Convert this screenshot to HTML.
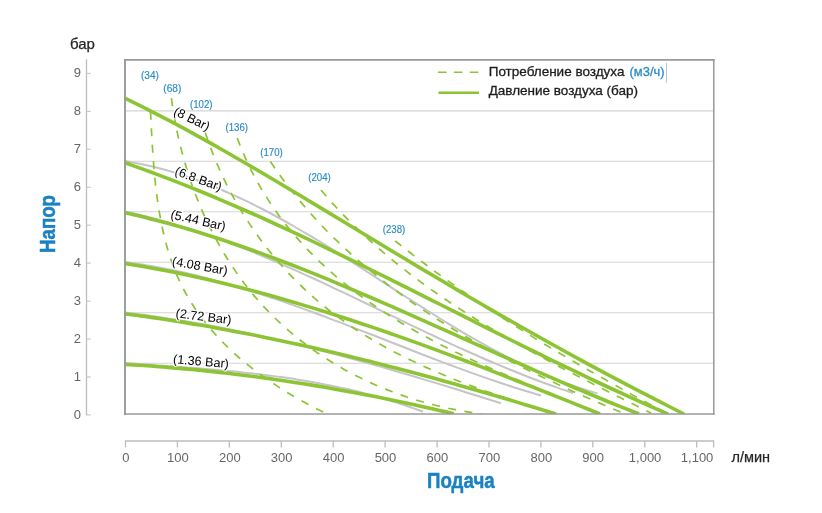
<!DOCTYPE html>
<html lang="ru"><head><meta charset="utf-8">
<style>
html,body{margin:0;padding:0;background:#fff;}
body{width:822px;height:513px;position:relative;overflow:hidden;font-family:"Liberation Sans",sans-serif;}
text{font-family:"Liberation Sans",sans-serif;}
.tk{font-size:13px;fill:#666;}
.un{font-size:14.5px;fill:#262626;stroke:#262626;stroke-width:0.25px;}
.ttl{font-size:22px;font-weight:bold;fill:#1a82c2;stroke:#1a82c2;stroke-width:0.5px;}
.bl{font-size:10.2px;fill:#2a8cc4;stroke:#2a8cc4;stroke-width:0.15px;}
.br{font-size:12.6px;fill:#000;text-shadow:1.1px 0 0 #fff,-1.1px 0 0 #fff,0 1.1px 0 #fff,0 -1.1px 0 #fff,0.8px 0.8px 0 #fff,-0.8px -0.8px 0 #fff,0.8px -0.8px 0 #fff,-0.8px 0.8px 0 #fff;}
.lg{font-size:13.5px;fill:#1c1c1c;stroke:#1c1c1c;stroke-width:0.3px;}
</style></head>
<body>
<svg width="822" height="513" viewBox="0 0 822 513" style="position:absolute;left:0;top:0">
<line x1="126" y1="110.9" x2="713" y2="110.9" stroke="#d4d4d4" stroke-width="1.1"/>
<line x1="126" y1="161.3" x2="713" y2="161.3" stroke="#d4d4d4" stroke-width="1.1"/>
<line x1="126" y1="211.8" x2="713" y2="211.8" stroke="#d4d4d4" stroke-width="1.1"/>
<line x1="126" y1="262.3" x2="713" y2="262.3" stroke="#d4d4d4" stroke-width="1.1"/>
<line x1="126" y1="312.7" x2="713" y2="312.7" stroke="#d4d4d4" stroke-width="1.1"/>
<line x1="126" y1="363.2" x2="713" y2="363.2" stroke="#d4d4d4" stroke-width="1.1"/>
<path d="M125.0,161.0 C128.0,161.6 137.2,163.2 143.3,164.5 C149.3,165.8 155.3,167.2 161.2,168.8 C167.1,170.4 172.9,172.1 178.7,173.9 C184.5,175.7 190.3,177.7 196.0,179.7 C201.7,181.8 207.3,183.9 212.9,186.2 C218.5,188.5 224.1,190.8 229.6,193.3 C235.1,195.7 240.6,198.3 246.1,200.9 C251.5,203.5 256.9,206.2 262.3,209.0 C267.7,211.8 273.0,214.6 278.3,217.5 C283.6,220.4 288.9,223.4 294.2,226.5 C299.5,229.5 304.7,232.6 309.9,235.7 C315.1,238.8 320.3,242.0 325.5,245.2 C330.7,248.4 335.9,251.7 341.0,254.9 C346.2,258.2 351.4,261.5 356.5,264.8 C361.6,268.1 366.8,271.4 371.9,274.8 C377.0,278.1 382.2,281.5 387.3,284.8 C392.4,288.1 397.6,291.5 402.7,294.8 C407.8,298.1 413.0,301.4 418.1,304.7 C423.3,308.0 428.5,311.3 433.6,314.5 C438.8,317.8 444.0,321.0 449.2,324.2 C454.4,327.3 459.7,330.5 464.9,333.6 C470.2,336.6 475.4,339.7 480.7,342.7 C486.1,345.6 491.4,348.6 496.7,351.4 C502.1,354.3 507.5,357.1 512.9,359.8 C518.3,362.5 523.8,365.1 529.3,367.7 C534.8,370.2 540.3,372.7 545.9,375.0 C551.5,377.4 557.1,379.7 562.8,381.9 C568.5,384.0 574.2,386.1 580.0,388.0 C585.8,390.0 594.6,392.6 597.5,393.5" fill="none" stroke="#c5c5c8" stroke-width="2.0"/>
<path d="M125.0,211.5 C127.7,212.1 136.0,213.9 141.4,215.3 C146.9,216.6 152.3,218.0 157.7,219.4 C163.1,220.9 168.5,222.4 173.8,224.0 C179.1,225.6 184.5,227.3 189.8,229.0 C195.1,230.7 200.3,232.4 205.6,234.2 C210.8,236.1 216.1,237.9 221.3,239.8 C226.5,241.8 231.7,243.7 236.9,245.7 C242.0,247.7 247.2,249.8 252.4,251.9 C257.5,254.0 262.6,256.1 267.7,258.3 C272.9,260.4 278.0,262.6 283.1,264.8 C288.1,267.1 293.2,269.3 298.3,271.6 C303.4,273.9 308.4,276.2 313.5,278.5 C318.5,280.8 323.6,283.2 328.6,285.6 C333.6,287.9 338.7,290.3 343.7,292.7 C348.7,295.1 353.7,297.5 358.8,299.9 C363.8,302.3 368.8,304.7 373.8,307.1 C378.8,309.6 383.8,312.0 388.9,314.4 C393.9,316.8 398.9,319.2 403.9,321.7 C408.9,324.1 414.0,326.5 419.0,328.9 C424.0,331.3 429.0,333.7 434.1,336.0 C439.1,338.4 444.2,340.7 449.2,343.1 C454.3,345.4 459.3,347.7 464.4,350.0 C469.5,352.3 474.6,354.6 479.7,356.8 C484.7,359.0 489.9,361.3 495.0,363.4 C500.1,365.6 505.2,367.7 510.4,369.8 C515.5,371.9 520.7,374.0 525.9,376.0 C531.0,378.1 536.2,380.0 541.5,382.0 C546.7,383.9 551.9,385.8 557.2,387.6 C562.4,389.5 570.4,392.1 573.0,393.0" fill="none" stroke="#c5c5c8" stroke-width="2.0"/>
<path d="M125.0,262.0 C127.5,262.4 135.1,263.4 140.1,264.2 C145.1,265.0 150.1,265.8 155.1,266.7 C160.1,267.6 165.0,268.6 170.0,269.6 C174.9,270.6 179.8,271.7 184.7,272.8 C189.7,273.9 194.5,275.1 199.4,276.3 C204.3,277.5 209.2,278.8 214.0,280.1 C218.9,281.4 223.7,282.8 228.5,284.2 C233.4,285.6 238.2,287.0 243.0,288.5 C247.8,289.9 252.6,291.4 257.3,293.0 C262.1,294.5 266.9,296.1 271.7,297.7 C276.4,299.3 281.2,300.9 285.9,302.6 C290.7,304.2 295.4,305.9 300.1,307.6 C304.9,309.3 309.6,311.0 314.3,312.8 C319.0,314.5 323.7,316.3 328.4,318.1 C333.1,319.8 337.8,321.6 342.5,323.4 C347.2,325.2 351.9,327.0 356.6,328.9 C361.3,330.7 366.0,332.5 370.7,334.3 C375.4,336.2 380.1,338.0 384.8,339.8 C389.5,341.7 394.1,343.5 398.8,345.3 C403.5,347.2 408.2,349.0 412.9,350.8 C417.6,352.6 422.3,354.4 427.0,356.2 C431.7,358.0 436.4,359.8 441.1,361.6 C445.8,363.4 450.5,365.1 455.2,366.9 C460.0,368.6 464.7,370.4 469.4,372.1 C474.1,373.8 478.9,375.4 483.6,377.1 C488.4,378.8 493.1,380.4 497.9,382.0 C502.6,383.6 507.4,385.2 512.2,386.7 C517.0,388.2 521.7,389.8 526.6,391.2 C531.4,392.7 538.6,394.8 541.0,395.5" fill="none" stroke="#c5c5c8" stroke-width="2.0"/>
<path d="M125.0,312.5 C127.2,312.8 133.9,313.6 138.3,314.2 C142.7,314.7 147.1,315.3 151.5,316.0 C156.0,316.6 160.4,317.2 164.8,317.9 C169.2,318.6 173.6,319.3 178.0,320.0 C182.4,320.7 186.8,321.4 191.1,322.2 C195.5,323.0 199.9,323.8 204.3,324.6 C208.7,325.4 213.0,326.2 217.4,327.0 C221.8,327.9 226.1,328.7 230.5,329.6 C234.9,330.5 239.2,331.4 243.6,332.3 C247.9,333.2 252.3,334.2 256.6,335.1 C261.0,336.1 265.3,337.1 269.7,338.1 C274.0,339.0 278.3,340.0 282.7,341.1 C287.0,342.1 291.3,343.1 295.6,344.2 C300.0,345.2 304.3,346.3 308.6,347.4 C312.9,348.5 317.2,349.6 321.5,350.7 C325.9,351.8 330.2,352.9 334.5,354.1 C338.8,355.2 343.1,356.3 347.4,357.5 C351.7,358.7 356.0,359.8 360.3,361.0 C364.5,362.2 368.8,363.4 373.1,364.6 C377.4,365.8 381.7,367.0 386.0,368.3 C390.3,369.5 394.5,370.7 398.8,372.0 C403.1,373.2 407.4,374.5 411.6,375.8 C415.9,377.0 420.2,378.3 424.4,379.6 C428.7,380.8 433.0,382.1 437.2,383.4 C441.5,384.7 445.7,386.0 450.0,387.3 C454.3,388.6 458.5,389.9 462.8,391.2 C467.0,392.6 471.3,393.9 475.5,395.2 C479.8,396.5 484.0,397.9 488.3,399.2 C492.5,400.5 498.9,402.5 501.0,403.2" fill="none" stroke="#c5c5c8" stroke-width="2.0"/>
<path d="M125.0,363.0 C126.7,363.1 131.9,363.5 135.4,363.7 C138.8,364.0 142.3,364.2 145.8,364.5 C149.2,364.7 152.7,364.9 156.2,365.2 C159.7,365.4 163.1,365.7 166.6,365.9 C170.1,366.2 173.6,366.4 177.0,366.7 C180.5,366.9 184.0,367.2 187.5,367.5 C190.9,367.7 194.4,368.0 197.9,368.3 C201.4,368.6 204.8,368.9 208.3,369.2 C211.8,369.5 215.3,369.8 218.8,370.1 C222.2,370.4 225.7,370.7 229.2,371.1 C232.7,371.4 236.1,371.7 239.6,372.1 C243.1,372.5 246.5,372.8 250.0,373.2 C253.5,373.6 256.9,374.0 260.4,374.4 C263.9,374.9 267.3,375.3 270.8,375.7 C274.3,376.2 277.7,376.7 281.2,377.1 C284.6,377.6 288.1,378.1 291.5,378.6 C294.9,379.2 298.4,379.7 301.8,380.3 C305.3,380.8 308.7,381.4 312.1,382.0 C315.5,382.6 319.0,383.3 322.4,383.9 C325.8,384.6 329.2,385.2 332.6,385.9 C336.0,386.6 339.4,387.3 342.8,388.1 C346.2,388.8 349.6,389.6 353.0,390.4 C356.4,391.2 359.8,392.1 363.1,392.9 C366.5,393.8 369.9,394.7 373.2,395.6 C376.6,396.5 379.9,397.5 383.3,398.4 C386.6,399.4 390.0,400.4 393.3,401.5 C396.6,402.5 399.9,403.6 403.2,404.7 C406.6,405.8 409.9,407.0 413.1,408.1 C416.4,409.3 421.4,411.2 423.0,411.8" fill="none" stroke="#c5c5c8" stroke-width="2.0"/>
<clipPath id="cp"><rect x="125" y="60" width="589" height="354"/></clipPath>
<g clip-path="url(#cp)"><g transform="translate(0,0.5)">
<path d="M150.5,111.3 C150.6,112.5 150.8,116.2 150.9,118.7 C151.0,121.2 151.1,123.7 151.3,126.2 C151.4,128.7 151.5,131.2 151.7,133.7 C151.8,136.2 151.9,138.8 152.1,141.3 C152.2,143.9 152.4,146.4 152.6,149.0 C152.7,151.5 152.9,154.1 153.1,156.7 C153.3,159.2 153.5,161.8 153.7,164.4 C153.9,167.0 154.1,169.5 154.3,172.1 C154.6,174.7 154.8,177.3 155.1,179.9 C155.4,182.5 155.6,185.1 155.9,187.6 C156.2,190.2 156.6,192.8 156.9,195.4 C157.2,198.0 157.6,200.5 158.0,203.1 C158.4,205.7 158.8,208.2 159.2,210.8 C159.6,213.3 160.1,215.9 160.6,218.4 C161.0,221.0 161.5,223.5 162.1,226.0 C162.6,228.6 163.2,231.1 163.7,233.6 C164.3,236.1 164.9,238.6 165.6,241.1 C166.2,243.5 166.9,246.0 167.6,248.4 C168.4,250.9 169.1,253.3 169.9,255.7 C170.7,258.2 171.5,260.6 172.3,262.9 C173.2,265.3 174.1,267.7 175.0,270.0 C175.9,272.4 176.9,274.7 177.9,277.0 C178.9,279.3 180.0,281.6 181.1,283.8 C182.2,286.1 183.3,288.3 184.5,290.5 C185.7,292.8 186.9,294.9 188.2,297.1 C189.4,299.3 190.7,301.4 192.1,303.5 C193.4,305.6 194.8,307.7 196.2,309.8 C197.6,311.9 199.1,313.9 200.6,315.9 C202.1,317.9 203.6,319.9 205.2,321.9 C206.7,323.9 208.3,325.8 210.0,327.8 C211.6,329.7 213.3,331.6 215.0,333.5 C216.7,335.4 218.4,337.2 220.1,339.0 C221.9,340.9 223.7,342.7 225.5,344.5 C227.3,346.3 229.1,348.0 231.0,349.8 C232.9,351.5 234.8,353.3 236.7,355.0 C238.6,356.7 240.5,358.3 242.5,360.0 C244.5,361.6 246.5,363.3 248.5,364.9 C250.5,366.5 252.5,368.1 254.5,369.6 C256.6,371.2 258.7,372.7 260.7,374.3 C262.8,375.8 264.9,377.3 267.1,378.8 C269.2,380.2 271.3,381.7 273.5,383.1 C275.6,384.6 277.8,386.0 280.0,387.4 C282.1,388.8 284.3,390.1 286.5,391.5 C288.7,392.8 290.9,394.2 293.2,395.5 C295.4,396.8 297.6,398.1 299.9,399.3 C302.1,400.6 304.3,401.8 306.6,403.0 C308.9,404.3 311.1,405.5 313.4,406.6 C315.7,407.8 317.9,409.0 320.2,410.1 C322.5,411.2 325.9,412.9 327.0,413.5" fill="none" stroke="#8cc434" stroke-width="1.7" stroke-dasharray="8 8.5"/>
<path d="M171.4,97.6 C171.7,99.3 172.3,104.1 172.8,107.3 C173.3,110.6 173.8,113.8 174.4,117.0 C175.0,120.2 175.6,123.4 176.2,126.6 C176.8,129.9 177.5,133.1 178.2,136.3 C179.0,139.5 179.7,142.7 180.5,145.9 C181.3,149.0 182.1,152.2 183.0,155.4 C183.8,158.6 184.7,161.7 185.7,164.9 C186.6,168.0 187.6,171.1 188.6,174.3 C189.6,177.4 190.7,180.5 191.7,183.6 C192.8,186.7 194.0,189.8 195.1,192.9 C196.3,195.9 197.5,199.0 198.7,202.0 C200.0,205.1 201.2,208.1 202.5,211.1 C203.8,214.1 205.2,217.1 206.6,220.0 C208.0,223.0 209.4,225.9 210.9,228.9 C212.3,231.8 213.8,234.7 215.4,237.6 C216.9,240.4 218.5,243.3 220.1,246.1 C221.7,249.0 223.3,251.8 225.0,254.5 C226.7,257.3 228.4,260.1 230.2,262.8 C232.0,265.5 233.8,268.2 235.6,270.9 C237.4,273.6 239.3,276.2 241.2,278.8 C243.2,281.4 245.1,284.0 247.1,286.6 C249.1,289.1 251.1,291.6 253.2,294.1 C255.3,296.6 257.4,299.0 259.5,301.4 C261.7,303.9 263.8,306.2 266.1,308.6 C268.3,310.9 270.5,313.2 272.8,315.5 C275.1,317.8 277.5,320.0 279.8,322.2 C282.2,324.4 284.6,326.6 287.0,328.7 C289.4,330.8 291.9,332.9 294.4,335.0 C296.9,337.0 299.4,339.1 302.0,341.0 C304.6,343.0 307.1,345.0 309.8,346.9 C312.4,348.8 315.0,350.6 317.7,352.5 C320.4,354.3 323.1,356.1 325.8,357.9 C328.6,359.6 331.3,361.3 334.1,363.0 C336.9,364.7 339.7,366.3 342.5,367.9 C345.4,369.6 348.2,371.1 351.1,372.6 C354.0,374.2 356.9,375.7 359.8,377.1 C362.8,378.6 365.7,380.0 368.7,381.4 C371.6,382.7 374.6,384.1 377.6,385.4 C380.6,386.7 383.7,387.9 386.7,389.1 C389.8,390.3 392.8,391.5 395.9,392.6 C399.0,393.8 402.1,394.9 405.2,395.9 C408.3,397.0 411.4,398.0 414.6,399.0 C417.7,400.0 420.9,400.9 424.0,401.8 C427.2,402.7 430.4,403.5 433.6,404.3 C436.7,405.2 439.9,405.9 443.2,406.6 C446.4,407.4 449.6,408.1 452.8,408.7 C456.0,409.4 459.3,410.0 462.5,410.5 C465.8,411.1 469.0,411.6 472.3,412.1 C475.5,412.6 480.4,413.2 482.1,413.4" fill="none" stroke="#8cc434" stroke-width="1.7" stroke-dasharray="8 8.5"/>
<path d="M205.1,131.7 C205.7,133.2 207.2,137.8 208.3,140.9 C209.4,143.9 210.5,147.0 211.7,150.0 C212.8,153.0 214.0,156.0 215.3,159.0 C216.5,162.0 217.8,164.9 219.1,167.9 C220.4,170.8 221.7,173.8 223.1,176.7 C224.5,179.6 225.9,182.5 227.3,185.3 C228.8,188.2 230.3,191.0 231.8,193.8 C233.3,196.7 234.9,199.5 236.5,202.2 C238.1,205.0 239.7,207.8 241.4,210.5 C243.0,213.2 244.7,215.9 246.4,218.6 C248.2,221.3 249.9,224.0 251.7,226.6 C253.5,229.3 255.3,231.9 257.2,234.5 C259.0,237.1 260.9,239.6 262.8,242.2 C264.8,244.7 266.7,247.2 268.7,249.7 C270.7,252.2 272.7,254.6 274.7,257.1 C276.8,259.5 278.8,261.9 280.9,264.3 C283.0,266.7 285.2,269.0 287.3,271.4 C289.5,273.7 291.7,276.0 293.9,278.2 C296.1,280.5 298.4,282.7 300.7,284.9 C302.9,287.2 305.3,289.3 307.6,291.5 C309.9,293.6 312.3,295.7 314.7,297.8 C317.1,299.9 319.5,302.0 321.9,304.0 C324.4,306.0 326.8,308.0 329.3,310.0 C331.8,311.9 334.4,313.9 336.9,315.7 C339.5,317.6 342.0,319.5 344.6,321.3 C347.2,323.2 349.8,325.0 352.5,326.7 C355.1,328.5 357.8,330.2 360.5,332.0 C363.2,333.7 365.9,335.4 368.6,337.0 C371.3,338.7 374.1,340.3 376.9,341.9 C379.6,343.5 382.4,345.1 385.2,346.6 C388.0,348.1 390.9,349.7 393.7,351.2 C396.5,352.7 399.4,354.1 402.3,355.6 C405.1,357.0 408.0,358.4 410.9,359.8 C413.8,361.2 416.7,362.6 419.6,364.0 C422.6,365.3 425.5,366.6 428.4,367.9 C431.4,369.2 434.3,370.5 437.3,371.8 C440.3,373.1 443.2,374.3 446.2,375.5 C449.2,376.8 452.2,378.0 455.2,379.2 C458.2,380.4 461.2,381.5 464.2,382.7 C467.2,383.8 470.3,385.0 473.3,386.1 C476.3,387.2 479.3,388.3 482.4,389.4 C485.4,390.5 488.4,391.6 491.5,392.6 C494.5,393.7 497.5,394.7 500.6,395.8 C503.6,396.8 506.6,397.8 509.7,398.8 C512.7,399.8 515.8,400.8 518.8,401.8 C521.8,402.8 524.9,403.8 527.9,404.7 C530.9,405.7 533.9,406.6 537.0,407.6 C540.0,408.5 543.0,409.5 546.0,410.4 C549.0,411.3 553.5,412.7 555.0,413.1" fill="none" stroke="#8cc434" stroke-width="1.7" stroke-dasharray="8 8.5"/>
<path d="M237.2,137.5 C237.8,139.0 239.6,143.7 240.8,146.8 C242.1,149.9 243.4,152.9 244.7,155.9 C246.0,158.9 247.4,161.9 248.8,164.8 C250.2,167.8 251.7,170.7 253.2,173.6 C254.7,176.4 256.2,179.3 257.8,182.1 C259.4,184.9 261.0,187.7 262.6,190.4 C264.3,193.2 266.0,195.9 267.7,198.6 C269.4,201.3 271.2,203.9 273.0,206.6 C274.8,209.2 276.6,211.8 278.5,214.4 C280.4,216.9 282.3,219.5 284.2,222.0 C286.2,224.5 288.2,226.9 290.2,229.4 C292.2,231.8 294.2,234.3 296.3,236.6 C298.4,239.0 300.5,241.4 302.6,243.7 C304.7,246.0 306.9,248.3 309.1,250.6 C311.3,252.9 313.5,255.1 315.8,257.4 C318.0,259.6 320.3,261.8 322.6,263.9 C324.9,266.1 327.3,268.2 329.6,270.3 C332.0,272.4 334.4,274.5 336.8,276.6 C339.2,278.6 341.6,280.7 344.1,282.7 C346.6,284.7 349.1,286.6 351.6,288.6 C354.1,290.5 356.6,292.5 359.2,294.4 C361.7,296.3 364.3,298.1 366.9,300.0 C369.5,301.8 372.1,303.7 374.7,305.5 C377.4,307.3 380.0,309.0 382.7,310.8 C385.4,312.5 388.1,314.3 390.8,316.0 C393.5,317.7 396.2,319.3 399.0,321.0 C401.7,322.7 404.5,324.3 407.2,325.9 C410.0,327.5 412.8,329.1 415.6,330.7 C418.4,332.3 421.2,333.8 424.1,335.4 C426.9,336.9 429.7,338.4 432.6,339.9 C435.4,341.4 438.3,342.9 441.2,344.4 C444.1,345.8 446.9,347.3 449.8,348.7 C452.7,350.2 455.6,351.6 458.6,353.0 C461.5,354.4 464.4,355.8 467.3,357.2 C470.2,358.5 473.2,359.9 476.1,361.2 C479.1,362.6 482.0,363.9 485.0,365.3 C487.9,366.6 490.9,367.9 493.8,369.2 C496.8,370.5 499.8,371.8 502.7,373.1 C505.7,374.4 508.7,375.6 511.6,376.9 C514.6,378.2 517.6,379.4 520.6,380.7 C523.5,381.9 526.5,383.2 529.5,384.4 C532.4,385.6 535.4,386.9 538.4,388.1 C541.3,389.3 544.3,390.5 547.3,391.8 C550.2,393.0 553.2,394.2 556.1,395.4 C559.1,396.6 562.1,397.8 565.0,399.0 C567.9,400.2 570.9,401.4 573.8,402.6 C576.8,403.8 579.7,405.0 582.6,406.2 C585.5,407.4 588.4,408.6 591.3,409.8 C594.2,411.0 598.6,412.8 600.0,413.4" fill="none" stroke="#8cc434" stroke-width="1.7" stroke-dasharray="8 8.5"/>
<path d="M270.4,161.0 C271.2,162.2 273.8,166.0 275.5,168.5 C277.3,171.0 279.0,173.5 280.8,176.0 C282.6,178.4 284.4,180.9 286.2,183.3 C288.0,185.7 289.9,188.1 291.7,190.4 C293.6,192.8 295.5,195.2 297.4,197.5 C299.3,199.8 301.2,202.1 303.2,204.4 C305.1,206.7 307.1,209.0 309.1,211.2 C311.0,213.5 313.1,215.7 315.1,217.9 C317.1,220.2 319.1,222.3 321.2,224.5 C323.3,226.7 325.3,228.8 327.4,231.0 C329.5,233.1 331.6,235.2 333.8,237.3 C335.9,239.4 338.1,241.5 340.2,243.6 C342.4,245.6 344.6,247.7 346.8,249.7 C349.0,251.7 351.2,253.7 353.4,255.7 C355.6,257.7 357.9,259.7 360.2,261.6 C362.4,263.6 364.7,265.5 367.0,267.4 C369.3,269.4 371.6,271.3 373.9,273.1 C376.2,275.0 378.6,276.9 380.9,278.8 C383.3,280.6 385.6,282.4 388.0,284.3 C390.4,286.1 392.8,287.9 395.2,289.7 C397.6,291.5 400.0,293.2 402.4,295.0 C404.9,296.8 407.3,298.5 409.8,300.2 C412.2,302.0 414.7,303.7 417.1,305.4 C419.6,307.1 422.1,308.8 424.6,310.4 C427.1,312.1 429.6,313.7 432.1,315.4 C434.7,317.0 437.2,318.6 439.7,320.3 C442.3,321.9 444.8,323.5 447.4,325.1 C450.0,326.6 452.5,328.2 455.1,329.8 C457.7,331.3 460.3,332.9 462.9,334.4 C465.5,335.9 468.1,337.5 470.7,339.0 C473.3,340.5 475.9,342.0 478.5,343.4 C481.2,344.9 483.8,346.4 486.5,347.9 C489.1,349.3 491.8,350.8 494.4,352.2 C497.1,353.6 499.7,355.1 502.4,356.5 C505.1,357.9 507.7,359.3 510.4,360.7 C513.1,362.1 515.8,363.4 518.5,364.8 C521.2,366.2 523.9,367.5 526.6,368.9 C529.3,370.2 532.0,371.5 534.7,372.9 C537.4,374.2 540.1,375.5 542.8,376.8 C545.6,378.1 548.3,379.4 551.0,380.7 C553.7,382.0 556.5,383.3 559.2,384.5 C561.9,385.8 564.7,387.1 567.4,388.3 C570.1,389.6 572.9,390.8 575.6,392.1 C578.4,393.3 581.1,394.5 583.8,395.7 C586.6,396.9 589.3,398.2 592.1,399.4 C594.8,400.6 597.6,401.8 600.3,402.9 C603.1,404.1 605.8,405.3 608.6,406.5 C611.3,407.6 614.0,408.8 616.8,410.0 C619.5,411.1 623.6,412.8 625.0,413.4" fill="none" stroke="#8cc434" stroke-width="1.7" stroke-dasharray="8 8.5"/>
<path d="M321.0,189.6 C321.9,190.6 324.6,193.8 326.4,195.9 C328.2,197.9 330.0,200.0 331.8,202.0 C333.7,204.0 335.5,206.1 337.4,208.1 C339.2,210.1 341.1,212.0 343.0,214.0 C344.9,216.0 346.8,217.9 348.7,219.9 C350.6,221.8 352.6,223.7 354.5,225.6 C356.5,227.5 358.4,229.4 360.4,231.3 C362.4,233.2 364.4,235.0 366.4,236.9 C368.4,238.7 370.4,240.6 372.4,242.4 C374.4,244.2 376.5,246.0 378.5,247.8 C380.6,249.6 382.6,251.3 384.7,253.1 C386.8,254.8 388.9,256.6 391.0,258.3 C393.1,260.1 395.2,261.8 397.3,263.5 C399.4,265.2 401.5,266.9 403.7,268.5 C405.8,270.2 408.0,271.9 410.1,273.5 C412.3,275.2 414.5,276.8 416.7,278.5 C418.8,280.1 421.0,281.7 423.2,283.3 C425.4,284.9 427.6,286.5 429.9,288.1 C432.1,289.7 434.3,291.2 436.5,292.8 C438.8,294.4 441.0,295.9 443.3,297.4 C445.5,299.0 447.8,300.5 450.1,302.0 C452.3,303.5 454.6,305.0 456.9,306.5 C459.2,308.0 461.5,309.5 463.8,311.0 C466.1,312.5 468.4,313.9 470.7,315.4 C473.0,316.9 475.3,318.3 477.6,319.7 C480.0,321.2 482.3,322.6 484.6,324.0 C487.0,325.5 489.3,326.9 491.7,328.3 C494.0,329.7 496.4,331.1 498.7,332.5 C501.1,333.8 503.5,335.2 505.8,336.6 C508.2,338.0 510.6,339.3 513.0,340.7 C515.3,342.0 517.7,343.4 520.1,344.7 C522.5,346.1 524.9,347.4 527.3,348.7 C529.7,350.1 532.1,351.4 534.5,352.7 C536.9,354.0 539.3,355.3 541.7,356.6 C544.1,358.0 546.5,359.2 549.0,360.5 C551.4,361.8 553.8,363.1 556.2,364.4 C558.6,365.7 561.1,367.0 563.5,368.2 C565.9,369.5 568.3,370.8 570.8,372.0 C573.2,373.3 575.6,374.6 578.1,375.8 C580.5,377.1 582.9,378.3 585.4,379.6 C587.8,380.8 590.2,382.0 592.7,383.3 C595.1,384.5 597.5,385.8 600.0,387.0 C602.4,388.2 604.8,389.4 607.3,390.7 C609.7,391.9 612.1,393.1 614.6,394.3 C617.0,395.6 619.5,396.8 621.9,398.0 C624.3,399.2 626.7,400.4 629.2,401.6 C631.6,402.8 634.0,404.1 636.5,405.3 C638.9,406.5 641.3,407.7 643.7,408.9 C646.2,410.1 649.8,411.9 651.0,412.5" fill="none" stroke="#8cc434" stroke-width="1.7" stroke-dasharray="8 8.5"/>
<path d="M395.0,240.3 C395.9,241.0 398.4,243.0 400.2,244.4 C401.9,245.8 403.6,247.1 405.4,248.5 C407.1,249.9 408.9,251.2 410.6,252.5 C412.3,253.9 414.1,255.2 415.8,256.6 C417.6,257.9 419.3,259.2 421.1,260.6 C422.9,261.9 424.6,263.2 426.4,264.5 C428.2,265.8 429.9,267.2 431.7,268.5 C433.5,269.8 435.2,271.1 437.0,272.4 C438.8,273.7 440.6,275.0 442.4,276.3 C444.1,277.6 445.9,278.8 447.7,280.1 C449.5,281.4 451.3,282.7 453.1,283.9 C454.9,285.2 456.7,286.5 458.5,287.7 C460.3,289.0 462.1,290.3 463.9,291.5 C465.7,292.8 467.6,294.0 469.4,295.3 C471.2,296.5 473.0,297.8 474.8,299.0 C476.6,300.2 478.5,301.5 480.3,302.7 C482.1,303.9 484.0,305.1 485.8,306.4 C487.6,307.6 489.5,308.8 491.3,310.0 C493.1,311.2 495.0,312.4 496.8,313.6 C498.7,314.8 500.5,316.0 502.3,317.2 C504.2,318.4 506.0,319.6 507.9,320.8 C509.8,322.0 511.6,323.2 513.5,324.4 C515.3,325.6 517.2,326.7 519.1,327.9 C520.9,329.1 522.8,330.3 524.6,331.4 C526.5,332.6 528.4,333.8 530.3,334.9 C532.1,336.1 534.0,337.3 535.9,338.4 C537.8,339.6 539.6,340.7 541.5,341.9 C543.4,343.0 545.3,344.1 547.2,345.3 C549.0,346.4 550.9,347.6 552.8,348.7 C554.7,349.8 556.6,351.0 558.5,352.1 C560.4,353.2 562.3,354.4 564.2,355.5 C566.1,356.6 568.0,357.7 569.9,358.8 C571.8,359.9 573.7,361.1 575.6,362.2 C577.5,363.3 579.4,364.4 581.3,365.5 C583.2,366.6 585.1,367.7 587.0,368.8 C588.9,369.9 590.8,371.0 592.8,372.1 C594.7,373.2 596.6,374.3 598.5,375.4 C600.4,376.4 602.3,377.5 604.3,378.6 C606.2,379.7 608.1,380.8 610.0,381.8 C611.9,382.9 613.9,384.0 615.8,385.1 C617.7,386.1 619.6,387.2 621.6,388.3 C623.5,389.4 625.4,390.4 627.3,391.5 C629.3,392.5 631.2,393.6 633.1,394.7 C635.1,395.7 637.0,396.8 638.9,397.8 C640.9,398.9 642.8,399.9 644.7,401.0 C646.7,402.0 648.6,403.1 650.5,404.1 C652.5,405.2 654.4,406.2 656.4,407.3 C658.3,408.3 660.2,409.3 662.2,410.4 C664.1,411.4 667.0,413.0 668.0,413.5" fill="none" stroke="#8cc434" stroke-width="1.7" stroke-dasharray="8 8.5"/>
<path d="M125.0,97.8 C129.1,99.8 141.2,105.7 149.3,109.8 C157.4,113.9 165.5,118.1 173.6,122.4 C181.7,126.7 189.8,131.1 197.9,135.6 C206.0,140.0 214.1,144.6 222.2,149.2 C230.3,153.8 238.4,158.5 246.5,163.2 C254.6,167.9 262.7,172.7 270.8,177.5 C278.9,182.3 287.0,187.1 295.1,192.0 C303.2,196.8 311.3,201.7 319.4,206.6 C327.5,211.5 335.6,216.4 343.7,221.3 C351.8,226.2 359.9,231.1 368.0,236.0 C376.1,240.9 384.2,245.8 392.3,250.7 C400.4,255.6 408.6,260.5 416.7,265.4 C424.8,270.2 432.9,275.0 441.0,279.8 C449.1,284.7 457.2,289.4 465.3,294.2 C473.4,298.9 481.5,303.7 489.6,308.4 C497.7,313.0 505.8,317.7 513.9,322.3 C522.0,326.9 530.1,331.5 538.2,336.0 C546.3,340.6 554.4,345.1 562.5,349.5 C570.6,354.0 578.7,358.4 586.8,362.8 C594.9,367.2 603.0,371.5 611.1,375.8 C619.2,380.1 627.3,384.4 635.4,388.6 C643.5,392.8 651.6,397.0 659.7,401.2 C667.8,405.3 679.9,411.4 684.0,413.5" fill="none" stroke="#8cc434" stroke-width="3.6"/>
<path d="M125.0,162.3 C128.9,163.7 140.7,167.8 148.6,170.7 C156.5,173.6 164.3,176.6 172.2,179.6 C180.1,182.7 188.0,185.8 195.8,189.0 C203.7,192.2 211.6,195.4 219.4,198.8 C227.3,202.1 235.2,205.5 243.0,209.0 C250.9,212.4 258.8,215.9 266.7,219.5 C274.5,223.1 282.4,226.7 290.3,230.4 C298.1,234.0 306.0,237.7 313.9,241.5 C321.7,245.2 329.6,249.0 337.5,252.8 C345.3,256.7 353.2,260.5 361.1,264.4 C369.0,268.3 376.8,272.2 384.7,276.1 C392.6,280.0 400.4,283.9 408.3,287.9 C416.2,291.8 424.0,295.8 431.9,299.8 C439.8,303.7 447.7,307.7 455.5,311.7 C463.4,315.6 471.3,319.6 479.1,323.6 C487.0,327.5 494.9,331.5 502.7,335.4 C510.6,339.3 518.5,343.3 526.3,347.1 C534.2,351.0 542.1,354.9 550.0,358.8 C557.8,362.6 565.7,366.4 573.6,370.2 C581.4,374.0 589.3,377.8 597.2,381.5 C605.0,385.2 612.9,388.8 620.8,392.4 C628.7,396.1 636.5,399.6 644.4,403.1 C652.3,406.7 664.1,411.8 668.0,413.5" fill="none" stroke="#8cc434" stroke-width="3.6"/>
<path d="M125.0,212.2 C128.7,213.1 139.9,215.6 147.3,217.4 C154.8,219.3 162.2,221.3 169.7,223.3 C177.1,225.4 184.6,227.5 192.0,229.7 C199.5,232.0 206.9,234.3 214.4,236.7 C221.8,239.1 229.3,241.6 236.7,244.2 C244.2,246.8 251.6,249.4 259.1,252.1 C266.5,254.8 274.0,257.6 281.4,260.5 C288.9,263.3 296.3,266.2 303.8,269.2 C311.2,272.1 318.7,275.1 326.1,278.2 C333.6,281.2 341.0,284.4 348.5,287.5 C355.9,290.6 363.4,293.8 370.8,297.0 C378.3,300.2 385.7,303.5 393.2,306.7 C400.6,310.0 408.1,313.3 415.5,316.6 C423.0,319.9 430.4,323.2 437.9,326.6 C445.3,329.9 452.8,333.2 460.2,336.6 C467.7,339.9 475.1,343.3 482.6,346.6 C490.0,349.9 497.5,353.3 504.9,356.6 C512.4,359.9 519.8,363.2 527.3,366.5 C534.7,369.8 542.2,373.1 549.6,376.3 C557.1,379.6 564.5,382.8 572.0,386.0 C579.4,389.2 586.9,392.3 594.3,395.4 C601.8,398.5 609.2,401.6 616.7,404.6 C624.1,407.6 635.3,412.0 639.0,413.5" fill="none" stroke="#8cc434" stroke-width="3.6"/>
<path d="M125.0,263.0 C128.4,263.6 138.8,265.2 145.7,266.4 C152.5,267.6 159.4,268.9 166.3,270.2 C173.2,271.6 180.1,273.0 187.0,274.4 C193.8,275.9 200.7,277.4 207.6,279.0 C214.5,280.6 221.4,282.2 228.3,283.9 C235.1,285.6 242.0,287.4 248.9,289.2 C255.8,291.0 262.7,292.9 269.6,294.8 C276.4,296.7 283.3,298.7 290.2,300.7 C297.1,302.7 304.0,304.8 310.9,306.9 C317.8,309.0 324.6,311.1 331.5,313.3 C338.4,315.5 345.3,317.7 352.2,320.0 C359.1,322.3 365.9,324.6 372.8,326.9 C379.7,329.3 386.6,331.6 393.5,334.1 C400.4,336.5 407.2,338.9 414.1,341.4 C421.0,343.9 427.9,346.4 434.8,348.9 C441.7,351.5 448.6,354.0 455.4,356.6 C462.3,359.2 469.2,361.8 476.1,364.4 C483.0,367.1 489.9,369.7 496.7,372.4 C503.6,375.1 510.5,377.8 517.4,380.5 C524.3,383.2 531.2,385.9 538.0,388.6 C544.9,391.4 551.8,394.1 558.7,396.9 C565.6,399.6 572.5,402.4 579.3,405.2 C586.2,407.9 596.6,412.1 600.0,413.5" fill="none" stroke="#8cc434" stroke-width="3.6"/>
<path d="M125.0,313.3 C128.1,313.7 137.5,314.9 143.7,315.8 C150.0,316.7 156.2,317.6 162.5,318.5 C168.7,319.5 175.0,320.4 181.2,321.4 C187.5,322.4 193.7,323.5 200.0,324.6 C206.2,325.6 212.4,326.7 218.7,327.9 C224.9,329.0 231.2,330.2 237.4,331.4 C243.7,332.6 249.9,333.8 256.2,335.1 C262.4,336.3 268.7,337.6 274.9,338.9 C281.2,340.2 287.4,341.6 293.7,342.9 C299.9,344.3 306.1,345.7 312.4,347.1 C318.6,348.5 324.9,350.0 331.1,351.5 C337.4,352.9 343.6,354.4 349.9,356.0 C356.1,357.5 362.4,359.0 368.6,360.6 C374.9,362.2 381.1,363.7 387.3,365.4 C393.6,367.0 399.8,368.6 406.1,370.3 C412.3,371.9 418.6,373.6 424.8,375.3 C431.1,377.0 437.3,378.7 443.6,380.4 C449.8,382.2 456.1,383.9 462.3,385.7 C468.6,387.5 474.8,389.3 481.0,391.1 C487.3,392.9 493.5,394.7 499.8,396.5 C506.0,398.4 512.3,400.2 518.5,402.1 C524.8,404.0 531.0,405.9 537.3,407.8 C543.5,409.7 552.9,412.5 556.0,413.5" fill="none" stroke="#8cc434" stroke-width="3.6"/>
<path d="M125.0,364.0 C127.4,364.1 134.5,364.5 139.3,364.8 C144.1,365.1 148.8,365.4 153.6,365.8 C158.3,366.1 163.1,366.5 167.9,366.9 C172.6,367.3 177.4,367.7 182.2,368.1 C186.9,368.5 191.7,369.0 196.5,369.4 C201.2,369.9 206.0,370.4 210.7,370.9 C215.5,371.4 220.3,371.9 225.0,372.5 C229.8,373.0 234.6,373.6 239.3,374.2 C244.1,374.8 248.9,375.4 253.6,376.0 C258.4,376.6 263.1,377.3 267.9,377.9 C272.7,378.6 277.4,379.3 282.2,380.0 C287.0,380.7 291.7,381.4 296.5,382.2 C301.3,382.9 306.0,383.7 310.8,384.4 C315.6,385.2 320.3,386.0 325.1,386.8 C329.8,387.7 334.6,388.5 339.4,389.4 C344.1,390.2 348.9,391.1 353.7,392.0 C358.4,392.9 363.2,393.8 368.0,394.7 C372.7,395.6 377.5,396.6 382.2,397.5 C387.0,398.5 391.8,399.5 396.5,400.5 C401.3,401.5 406.1,402.5 410.8,403.5 C415.6,404.6 420.4,405.6 425.1,406.7 C429.9,407.8 434.6,408.8 439.4,409.9 C444.2,411.0 451.3,412.7 453.7,413.3" fill="none" stroke="#8cc434" stroke-width="3.6"/>
</g></g>
<g stroke="#999" fill="none"><path d="M125,58.9 V414.9" stroke-width="1.9"/><path d="M124.05,59.8 H714.55" stroke-width="1.8"/><path d="M713.8,58.9 V414.85" stroke-width="1.5"/><path d="M124.05,414.1 H714.55" stroke-width="1.5"/></g>
<path d="M86.5,59.2 V415.3" stroke="#bdbdbd" stroke-width="1.3" fill="none"/>
<line x1="86.5" y1="414.9" x2="90.7" y2="414.9" stroke="#c9c9c9" stroke-width="1.2"/>
<text x="81" y="418.9" text-anchor="end" class="tk">0</text>
<line x1="86.5" y1="377.0" x2="90.7" y2="377.0" stroke="#c9c9c9" stroke-width="1.2"/>
<text x="81" y="381.0" text-anchor="end" class="tk">1</text>
<line x1="86.5" y1="339.0" x2="90.7" y2="339.0" stroke="#c9c9c9" stroke-width="1.2"/>
<text x="81" y="343.0" text-anchor="end" class="tk">2</text>
<line x1="86.5" y1="301.1" x2="90.7" y2="301.1" stroke="#c9c9c9" stroke-width="1.2"/>
<text x="81" y="305.1" text-anchor="end" class="tk">3</text>
<line x1="86.5" y1="263.1" x2="90.7" y2="263.1" stroke="#c9c9c9" stroke-width="1.2"/>
<text x="81" y="267.1" text-anchor="end" class="tk">4</text>
<line x1="86.5" y1="225.2" x2="90.7" y2="225.2" stroke="#c9c9c9" stroke-width="1.2"/>
<text x="81" y="229.2" text-anchor="end" class="tk">5</text>
<line x1="86.5" y1="187.3" x2="90.7" y2="187.3" stroke="#c9c9c9" stroke-width="1.2"/>
<text x="81" y="191.3" text-anchor="end" class="tk">6</text>
<line x1="86.5" y1="149.3" x2="90.7" y2="149.3" stroke="#c9c9c9" stroke-width="1.2"/>
<text x="81" y="153.3" text-anchor="end" class="tk">7</text>
<line x1="86.5" y1="111.4" x2="90.7" y2="111.4" stroke="#c9c9c9" stroke-width="1.2"/>
<text x="81" y="115.4" text-anchor="end" class="tk">8</text>
<line x1="86.5" y1="73.4" x2="90.7" y2="73.4" stroke="#c9c9c9" stroke-width="1.2"/>
<text x="81" y="77.4" text-anchor="end" class="tk">9</text>
<path d="M125.5,447.4 V441 H713.6 V447.4" stroke="#bdbdbd" stroke-width="1.3" fill="none"/>
<text x="125.9" y="462.3" text-anchor="middle" class="tk">0</text>
<line x1="177.4" y1="441" x2="177.4" y2="447.4" stroke="#bdbdbd" stroke-width="1.3"/>
<text x="177.8" y="462.3" text-anchor="middle" class="tk">100</text>
<line x1="229.3" y1="441" x2="229.3" y2="447.4" stroke="#bdbdbd" stroke-width="1.3"/>
<text x="229.8" y="462.3" text-anchor="middle" class="tk">200</text>
<line x1="281.3" y1="441" x2="281.3" y2="447.4" stroke="#bdbdbd" stroke-width="1.3"/>
<text x="281.7" y="462.3" text-anchor="middle" class="tk">300</text>
<line x1="333.2" y1="441" x2="333.2" y2="447.4" stroke="#bdbdbd" stroke-width="1.3"/>
<text x="333.6" y="462.3" text-anchor="middle" class="tk">400</text>
<line x1="385.1" y1="441" x2="385.1" y2="447.4" stroke="#bdbdbd" stroke-width="1.3"/>
<text x="385.5" y="462.3" text-anchor="middle" class="tk">500</text>
<line x1="437.1" y1="441" x2="437.1" y2="447.4" stroke="#bdbdbd" stroke-width="1.3"/>
<text x="437.4" y="462.3" text-anchor="middle" class="tk">600</text>
<line x1="489.0" y1="441" x2="489.0" y2="447.4" stroke="#bdbdbd" stroke-width="1.3"/>
<text x="489.4" y="462.3" text-anchor="middle" class="tk">700</text>
<line x1="540.9" y1="441" x2="540.9" y2="447.4" stroke="#bdbdbd" stroke-width="1.3"/>
<text x="541.3" y="462.3" text-anchor="middle" class="tk">800</text>
<line x1="592.8" y1="441" x2="592.8" y2="447.4" stroke="#bdbdbd" stroke-width="1.3"/>
<text x="593.2" y="462.3" text-anchor="middle" class="tk">900</text>
<line x1="644.8" y1="441" x2="644.8" y2="447.4" stroke="#bdbdbd" stroke-width="1.3"/>
<text x="645.1" y="462.3" text-anchor="middle" class="tk">1,000</text>
<line x1="696.7" y1="441" x2="696.7" y2="447.4" stroke="#bdbdbd" stroke-width="1.3"/>
<text x="697.1" y="462.3" text-anchor="middle" class="tk">1,100</text>
<text x="70" y="48.5" class="un" style="font-size:15px">бар</text>
<text x="731.5" y="462.3" class="un">л/мин</text>
<text transform="translate(55,253) rotate(-90) scale(0.85,1)" class="ttl">Напор</text>
<text transform="translate(427,487.7) scale(0.85,1)" class="ttl">Подача</text>
<text x="141.0" y="79.2" textLength="18.0" lengthAdjust="spacingAndGlyphs" class="bl">(34)</text>
<text x="163.3" y="92.2" textLength="18.0" lengthAdjust="spacingAndGlyphs" class="bl">(68)</text>
<text x="190.0" y="107.8" textLength="22.6" lengthAdjust="spacingAndGlyphs" class="bl">(102)</text>
<text x="225.5" y="131.2" textLength="22.6" lengthAdjust="spacingAndGlyphs" class="bl">(136)</text>
<text x="260.2" y="155.5" textLength="22.6" lengthAdjust="spacingAndGlyphs" class="bl">(170)</text>
<text x="308.2" y="181.2" textLength="22.6" lengthAdjust="spacingAndGlyphs" class="bl">(204)</text>
<text x="382.7" y="233.2" textLength="22.6" lengthAdjust="spacingAndGlyphs" class="bl">(238)</text>
<text transform="translate(192,118.5) rotate(26)" text-anchor="middle" y="4.6" class="br">(8 Bar)</text>
<text transform="translate(198.6,178.6) rotate(20)" text-anchor="middle" y="4.6" class="br">(6.8 Bar)</text>
<text transform="translate(198.3,220) rotate(12.8)" text-anchor="middle" y="4.6" class="br">(5.44 Bar)</text>
<text transform="translate(200,265.6) rotate(10)" text-anchor="middle" y="4.6" class="br">(4.08 Bar)</text>
<text transform="translate(203.6,316.2) rotate(7)" text-anchor="middle" y="4.6" class="br">(2.72 Bar)</text>
<text transform="translate(201,361) rotate(5)" text-anchor="middle" y="4.6" class="br">(1.36 Bar)</text>
<path d="M438,72.2 H479" stroke="#8cc434" stroke-width="1.5" stroke-dasharray="8.6 7.3" fill="none"/>
<path d="M438.4,92.8 H479" stroke="#8cc434" stroke-width="2.6" fill="none"/>
<text x="488.7" y="76.4" class="lg">Потребление воздуха <tspan fill="#2a8cc4" stroke="#2a8cc4" dx="1.4" style="font-size:12.9px">(м3/ч)</tspan></text>
<text x="488.7" y="94.7" class="lg">Давление воздуха (бар)</text>
<line x1="666.5" y1="63" x2="666.5" y2="83" stroke="#b9c6d6" stroke-width="1"/>
</svg>
</body></html>
